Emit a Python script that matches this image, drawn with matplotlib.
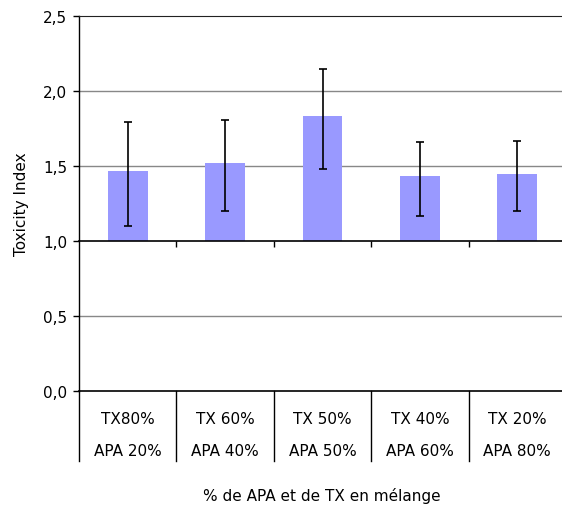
import numpy as np
import matplotlib.pyplot as plt

# values
row1 = ['TX80%', 'TX 60%', 'TX 50%', 'TX 40%', 'TX 20%']
row2 = ['APA 20%', 'APA 40%', 'APA 50%', 'APA 60%', 'APA 80%']
toxicity = [1.467, 1.52, 1.833, 1.433, 1.447]
err_minus = [0.367, 0.318, 0.351, 0.264, 0.247]
err_plus = [0.324, 0.284, 0.316, 0.229, 0.220]
yticks = [0.0, 0.5, 1.0, 1.5, 2.0, 2.5]

plt.rcParams['font.family'] = 'DejaVu Sans'

fig = plt.figure(figsize=(5.62, 5.10), dpi=100)
ax = fig.add_axes([79 / 562, 1 - 392 / 510, 487 / 562, 375 / 510])

x = np.arange(len(toxicity)) + 0.5
heights = [v - 1.0 for v in toxicity]
ax.bar(x, heights, bottom=1.0, width=0.41, color='#9999FF', zorder=2)
ax.errorbar(x, toxicity, yerr=[err_minus, err_plus], fmt='none',
            ecolor='black', elinewidth=1.2, capsize=3, capthick=1.2, zorder=3)

ax.set_xlim(0, 5)
ax.set_ylim(0, 2.5)

# grid
for g in [0.5, 1.5, 2.0]:
    ax.axhline(g, color='#888888', lw=1, zorder=1)

ax.set_yticks(yticks)
ax.set_yticklabels([('%.1f' % t).replace('.', ',') for t in yticks], fontsize=11)
ax.tick_params(axis='y', direction='out', length=4.5, width=1, pad=4)

# category axis sits at y = 1
ax.spines['bottom'].set_position(('data', 1.0))
ax.spines['bottom'].set_linewidth(1.2)
ax.set_xticks([1, 2, 3, 4])
ax.set_xticklabels([])
ax.tick_params(axis='x', direction='out', length=4.5, width=1)
ax.spines['right'].set_visible(False)
ax.spines['top'].set_color('#222222')
ax.spines['left'].set_linewidth(1)

# bottom border line at y = 0
ax.axhline(0, color='black', lw=1.2, clip_on=False, zorder=4)

# table under the plot
drop = 70 / 150
for i in range(6):
    ax.plot([i, i], [0, -drop], color='black', lw=1, clip_on=False)
for i in range(5):
    ax.text(i + 0.5, -27 / 150, row1[i], ha='center', va='center', fontsize=11)
    ax.text(i + 0.5, -60 / 150, row2[i], ha='center', va='center', fontsize=11)

ax.set_ylabel('Toxicity Index', fontsize=11, labelpad=10)
fig.text(322 / 562, 1 - 496 / 510, '% de APA et de TX en mélange',
         ha='center', va='center', fontsize=11)

fig.savefig('out.png', dpi=100)
